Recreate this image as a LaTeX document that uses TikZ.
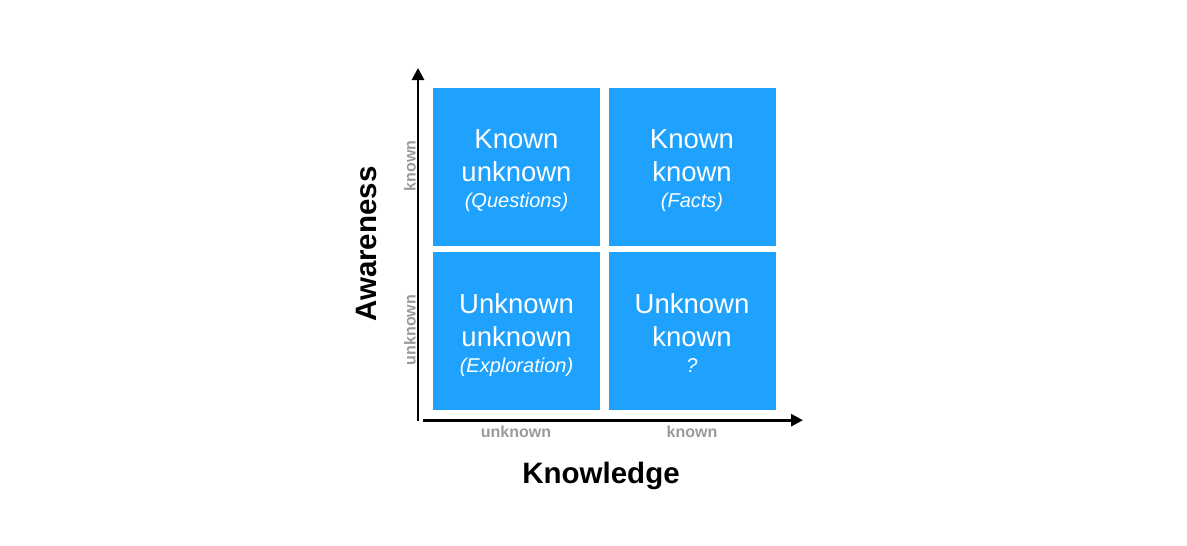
\documentclass[tikz,border=0pt]{standalone}
\usepackage{fontspec}
\setmainfont{Liberation Sans}
\usetikzlibrary{arrows.meta}
\definecolor{quadblue}{HTML}{1EA2FE}
\definecolor{axisgray}{HTML}{9A9A9A}
\tikzset{
  quad/.style={fill=quadblue, draw=none, minimum width=167pt, minimum height=158pt,
    inner sep=0pt},
  qtext/.style={text=white, align=center, font=\fontsize{27.5}{33}\selectfont, inner sep=0pt},
  axis/.style={line width=2.7pt, -{Triangle[length=12pt,width=12pt]}},
  tick/.style={text=axisgray, font=\fontsize{16}{18}\selectfont\bfseries, inner sep=0pt},
  title/.style={font=\fontsize{29.5}{32}\selectfont\bfseries, inner sep=0pt}
}
\newcommand{\sub}[1]{{\fontsize{20}{22}\selectfont\itshape\vphantom{()}#1}}
\begin{document}
\begin{tikzpicture}[x=1pt,y=1pt]
\useasboundingbox (0,0) rectangle (1187,-546);
\node[quad] (ku) at (516.5,-167) {};
\node[quad] (kk) at (692,-167) {};
\node[quad] (uu) at (516.5,-331) {};
\node[quad] (uk) at (692,-331) {};
\node[qtext] (tku) at ([yshift=-4pt]ku.center) {Known\\unknown\\[-7pt]\sub{(Questions)}};
\node[qtext] (tkk) at ([yshift=-4pt]kk.center) {Known\\known\\[-7pt]\sub{(Facts)}};
\node[qtext] (tuu) at ([yshift=-4pt]uu.center) {Unknown\\unknown\\[-7pt]\sub{(Exploration)}};
\node[qtext] (tuk) at ([yshift=-4pt]uk.center) {Unknown\\known\\[-7pt]\sub{?}};
\coordinate (o) at (418,-421);
\coordinate (ytip) at (418,-68);
\coordinate (xs) at (423,-420.2);
\coordinate (xtip) at (803,-420.2);
\draw[axis] (o) -- (ytip);
\draw[axis] (xs) -- (xtip);
\node[tick] (xu) at (516,-432) {unknown};
\node[tick] (xk) at (692,-432) {known};
\node[tick, rotate=90] (yk) at (410,-166) {known};
\node[tick, rotate=90] (yu) at (410,-330) {unknown};
\node[title] (kn) at (601,-476) {Knowledge};
\node[title, rotate=90] (aw) at (366,-244) {Awareness};
\end{tikzpicture}
\end{document}
